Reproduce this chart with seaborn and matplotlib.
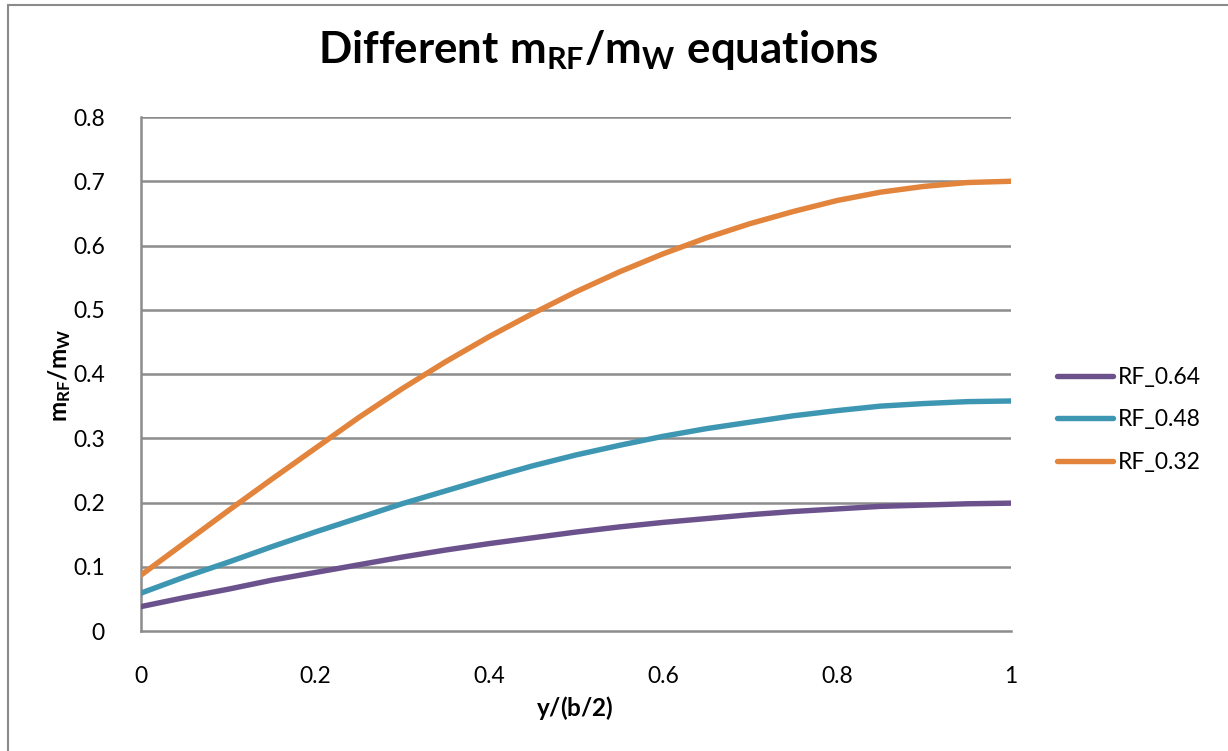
import numpy as np
import pandas as pd
import matplotlib
matplotlib.use("Agg")
import matplotlib.pyplot as plt
from matplotlib.lines import Line2D
import seaborn as sns

# Spanwise station y/(b/2)
span = [0.00, 0.05, 0.10, 0.15, 0.20, 0.25, 0.30, 0.35, 0.40, 0.45, 0.50,
        0.55, 0.60, 0.65, 0.70, 0.75, 0.80, 0.85, 0.90, 0.95, 1.00]

# Mass ratio m_RF/m_W for each RF case
rf_064 = [0.038, 0.052, 0.065, 0.079, 0.091, 0.103, 0.115, 0.126, 0.136, 0.145, 0.154,
          0.162, 0.169, 0.175, 0.181, 0.186, 0.190, 0.194, 0.196, 0.198, 0.199]
rf_048 = [0.059, 0.084, 0.107, 0.131, 0.154, 0.176, 0.198, 0.218, 0.238, 0.257, 0.274,
          0.289, 0.303, 0.315, 0.325, 0.335, 0.343, 0.350, 0.354, 0.357, 0.358]
rf_032 = [0.087, 0.137, 0.187, 0.236, 0.284, 0.332, 0.377, 0.419, 0.458, 0.494, 0.528,
          0.559, 0.587, 0.612, 0.634, 0.653, 0.670, 0.683, 0.692, 0.698, 0.700]

series_names = ["RF_0.64", "RF_0.48", "RF_0.32"]
series_values = [rf_064, rf_048, rf_032]
series_colors = ["#6C528D", "#3E97B2", "#E2843B"]

x_ticks = [0, 0.2, 0.4, 0.6, 0.8, 1]
x_tick_labels = ["0", "0.2", "0.4", "0.6", "0.8", "1"]
y_ticks = [0, 0.1, 0.2, 0.3, 0.4, 0.5, 0.6, 0.7, 0.8]
y_tick_labels = ["0", "0.1", "0.2", "0.3", "0.4", "0.5", "0.6", "0.7", "0.8"]

frames = [pd.DataFrame({"span": span, "ratio": vals, "case": name})
          for name, vals in zip(series_names, series_values)]
df = pd.concat(frames, ignore_index=True)

sns.set_theme(style="white")
plt.rcParams["font.family"] = ["Lato", "DejaVu Sans"]
plt.rcParams["mathtext.fontset"] = "custom"
plt.rcParams["mathtext.rm"] = "Lato"
plt.rcParams["mathtext.it"] = "Lato:italic"
plt.rcParams["mathtext.bf"] = "Lato:bold"
plt.rcParams["text.color"] = "black"
plt.rcParams["axes.labelcolor"] = "black"
plt.rcParams["xtick.color"] = "black"
plt.rcParams["ytick.color"] = "black"

W, H = 1228, 751
fig = plt.figure(figsize=(W / 100, H / 100), dpi=100)
fig.patch.set_facecolor("white")

# Chart-area border (top and left edges)
fig.add_artist(Line2D([7.5 / W, 7.5 / W], [0, 1 - 4.5 / H], color="#8A8A8A", lw=1.5))
fig.add_artist(Line2D([7.5 / W, 1], [1 - 4.5 / H, 1 - 4.5 / H], color="#8A8A8A", lw=1.5))

ax = fig.add_axes([141 / W, 1 - 631 / H, 870 / W, 514 / H])

sns.lineplot(data=df, x="span", y="ratio", hue="case", hue_order=series_names,
             palette=series_colors, linewidth=3.9, ax=ax, legend=False,
             solid_capstyle="round", solid_joinstyle="round", zorder=3)

ax.set_xlim(0, 1)
ax.set_ylim(0, 0.8)
ax.set_xticks(x_ticks)
ax.set_xticklabels(x_tick_labels)
ax.set_yticks(y_ticks)
ax.set_yticklabels(y_tick_labels)
ax.tick_params(axis="both", length=0, labelsize=16.5, colors="black")
ax.tick_params(axis="x", pad=25)
ax.tick_params(axis="y", pad=26)

grid_c = "#8C8C8C"
for yv in y_ticks[1:]:
    ax.axhline(yv, color=grid_c, lw=1.8, zorder=1)
for side in ["top", "right"]:
    ax.spines[side].set_visible(False)
for side in ["left", "bottom"]:
    ax.spines[side].set_color(grid_c)
    ax.spines[side].set_linewidth(1.8)
ax.set_facecolor("white")

ax.set_xlabel(r"$\mathbf{y/(b/2)}$", fontsize=17.5)
ax.set_ylabel(r"$\mathbf{m_{RF}/m_{W}}$", fontsize=17.5)
ax.xaxis.label.set_va("center")
ax.yaxis.label.set_va("center")
ax.xaxis.set_label_coords((575 - 141) / 870, -(708 - 631) / 514)
ax.yaxis.set_label_coords((60 - 141) / 870, (631 - 375) / 514)

fig.text(598 / W, 1 - 50 / H, r"$\mathbf{Different\ m_{RF}/m_{W}\ equations}$",
         ha="center", va="center", fontsize=31.5, color="black")

handles = [Line2D([], [], color=c, lw=3.9, solid_capstyle="round") for c in series_colors]
fig.legend(handles, series_names, loc="center left",
           bbox_to_anchor=(1057 / W, 1 - 420 / H), frameon=False, fontsize=16.5,
           handlelength=2.45, handletextpad=0.2, labelspacing=0.95,
           borderpad=0, borderaxespad=0)

fig.savefig("out.png", dpi=100, facecolor="white")
